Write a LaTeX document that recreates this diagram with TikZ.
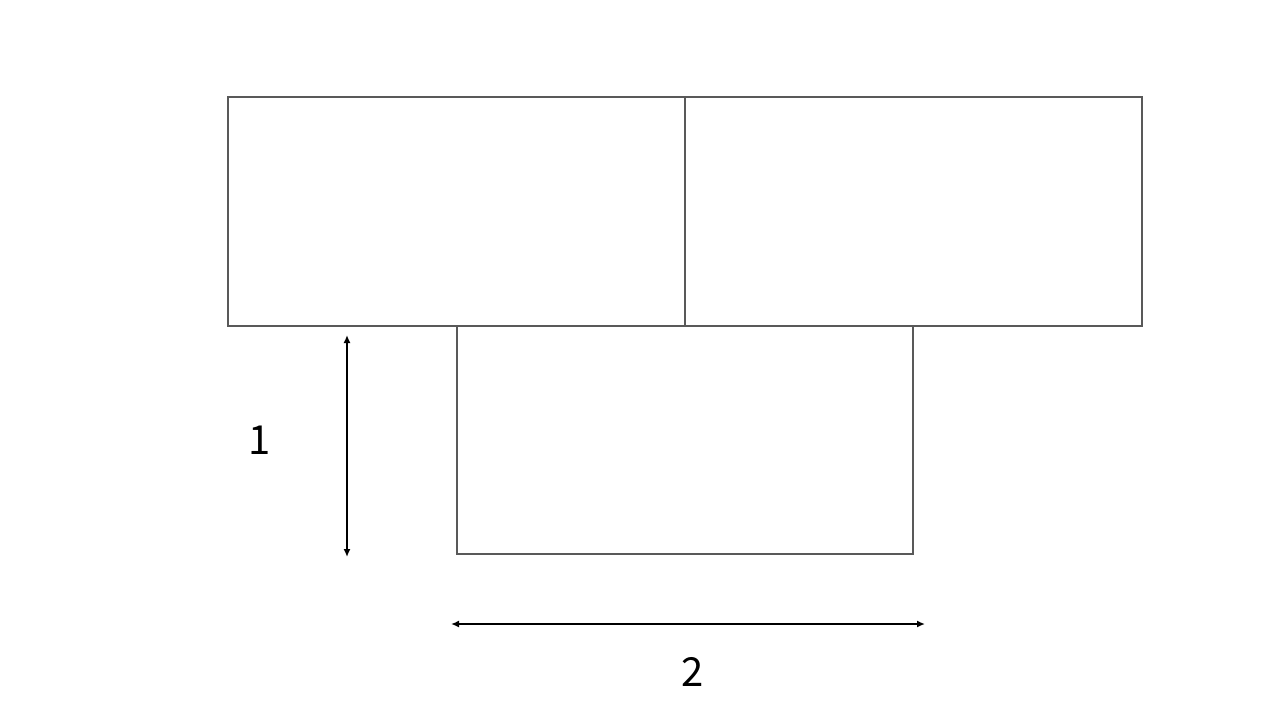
\documentclass[tikz,border=0pt]{standalone}
\usepackage{fontspec}
\setmainfont{Noto Sans CJK JP}
\usetikzlibrary{arrows.meta}
\begin{document}
\begin{tikzpicture}[x=1pt,y=-1pt,
  box/.style={draw=black!65,line width=2pt},
  dim/.style={draw=black,line width=2pt,{Latex[length=8pt,width=7pt]}-{Latex[length=8pt,width=7pt]}},
  lbl/.style={font=\fontsize{40}{48}\selectfont}]
\useasboundingbox (0,0) rectangle (1280,720);
\draw[box] (228,97) rectangle (685,326);
\draw[box] (685,97) rectangle (1142,326);
\draw[box] (457,326) rectangle (913,554);
\coordinate (v1) at (347,335);
\coordinate (v2) at (347,557);
\coordinate (h1) at (451,624);
\coordinate (h2) at (925,624);
\draw[dim] (v1) -- (v2);
\draw[dim] (h1) -- (h2);
\node[lbl] (l1) at (260,440) {1};
\node[lbl] (l2) at (693,672) {2};
\end{tikzpicture}
\end{document}
